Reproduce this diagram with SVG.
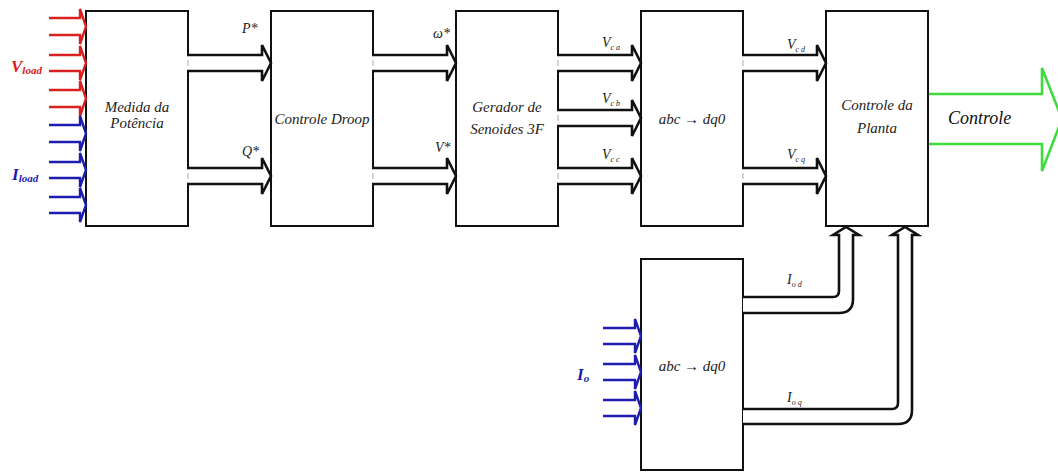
<svg xmlns="http://www.w3.org/2000/svg" width="1058" height="474" viewBox="0 0 1058 474">
<style>
.box{fill:#fff;stroke:#111;stroke-width:2}
.ha{fill:#fff;stroke:#111;stroke-width:2.6;stroke-linejoin:miter}
.red{fill:none;stroke:#d82020;stroke-width:2.4}
.blue{fill:none;stroke:#1c1cb0;stroke-width:2.4}
.grn{fill:#fff;stroke:#3cdc3c;stroke-width:2.6}
text{font-family:"Liberation Serif","Times New Roman","DejaVu Serif",serif;font-style:italic}
.bt{font-size:15px;fill:#222;text-anchor:middle}
.lb{font-size:14px;fill:#222}
.sb{font-size:8px}
.big{font-weight:bold;font-size:17px}
.tick{stroke:#bbb;stroke-width:1.2}
</style>
<rect width="1058" height="474" fill="#fff"/>
<g id="medida"><rect class="box" x="86" y="11" width="102" height="215"/><text class="bt" x="137" y="112">Medida da</text><text class="bt" x="137" y="128">Potência</text></g>
<g id="droop"><rect class="box" x="271" y="11" width="102" height="215"/><text class="bt" x="322" y="124">Controle Droop</text></g>
<g id="gerador"><rect class="box" x="456" y="11" width="102" height="215"/><text class="bt" x="507" y="112">Gerador de</text><text class="bt" x="507" y="134">Senoides 3F</text></g>
<g id="abcdq0"><rect class="box" x="641" y="11" width="102" height="215"/><text class="bt" x="692" y="124">abc → dq0</text></g>
<g id="planta"><rect class="box" x="826" y="11" width="102" height="215"/><text class="bt" x="877" y="110">Controle da</text><text class="bt" x="877" y="133">Planta</text></g>
<g id="abcdq0b"><rect class="box" x="641" y="259" width="102" height="211"/><text class="bt" x="692" y="371">abc → dq0</text></g>
<g id="connectors">
<path class="red" d="M49,18H80V9L86,26.5L80,44V35H49M49,55H80V46L86,63L80,80V71H49M49,90H80V81L86,98.5L80,116V107H49"/>
<path class="blue" d="M49,125H80V116L86,133.5L80,151V142H49M49,162H80V153L86,170L80,187V178H49M49,197H80V188L86,205L80,222V213H49"/>
<path class="blue" d="M603,328H635V319L641,336L635,353V344H603M603,364H635V355L641,372L635,389V380H603M603,400H635V391L641,408L635,425V416H603"/>
<path class="ha" d="M187,55H262V45L271,63L262,81V71H187"/>
<path class="ha" d="M187,168H262V158L271,176L262,194V184H187"/>
<path class="ha" d="M372,55H447V45L456,63L447,81V71H372"/>
<path class="ha" d="M372,168H447V158L456,176L447,194V184H372"/>
<path class="ha" d="M557,55H632V45L641,63L632,81V71H557"/>
<path class="ha" d="M557,110H632V100L641,118L632,136V126H557"/>
<path class="ha" d="M557,168H632V158L641,176L632,194V184H557"/>
<path class="ha" d="M742,55H817V45L826,63L817,81V71H742"/>
<path class="ha" d="M742,168H817V158L826,176L817,194V184H742"/>
<path class="ha" d="M743,297H833Q839,297 839,291V235H833L846,227L859,235H853V299Q853,313 839,313H743"/>
<path class="ha" d="M743,409H892Q898,409 898,403V235H892L905,227L918,235H912V410Q912,424 898,424H743"/>
<path class="grn" d="M929,94H1042V68L1062,119L1042,171V144H929"/>
<g class="tick"><line x1="188" y1="60" x2="188" y2="66"/><line x1="188" y1="173" x2="188" y2="179"/><line x1="373" y1="60" x2="373" y2="66"/><line x1="373" y1="173" x2="373" y2="179"/><line x1="558" y1="60" x2="558" y2="66"/><line x1="558" y1="115" x2="558" y2="121"/><line x1="558" y1="173" x2="558" y2="179"/><line x1="743" y1="60" x2="743" y2="66"/><line x1="743" y1="173" x2="743" y2="179"/></g>
</g>
<g id="labels">
<text class="lb" x="242" y="33">P*</text>
<text class="lb" x="242" y="156">Q*</text>
<text class="lb" x="433" y="38" font-size="13">ω*</text>
<text class="lb" x="435" y="152">V*</text>
<text class="lb" x="602" y="47">V<tspan class="sb" dy="3">c a</tspan></text>
<text class="lb" x="602" y="103">V<tspan class="sb" dy="3">c b</tspan></text>
<text class="lb" x="602" y="159">V<tspan class="sb" dy="3">c c</tspan></text>
<text class="lb" x="787" y="49">V<tspan class="sb" dy="3">c d</tspan></text>
<text class="lb" x="787" y="159">V<tspan class="sb" dy="3">c q</tspan></text>
<text class="lb" x="787" y="284">I<tspan class="sb" dy="3">o d</tspan></text>
<text class="lb" x="787" y="402">I<tspan class="sb" dy="3">o q</tspan></text>
<text x="948" y="124" font-size="18" fill="#111">Controle</text>
<text class="big" x="11" y="72" fill="#d82020">V<tspan font-size="11" dy="2">load</tspan></text>
<text class="big" x="12" y="180" fill="#1c1cb0">I<tspan font-size="11" dy="2">load</tspan></text>
<text class="big" x="577" y="380" fill="#1c1cb0">I<tspan font-size="11" dy="2">o</tspan></text>
</g>
</svg>
